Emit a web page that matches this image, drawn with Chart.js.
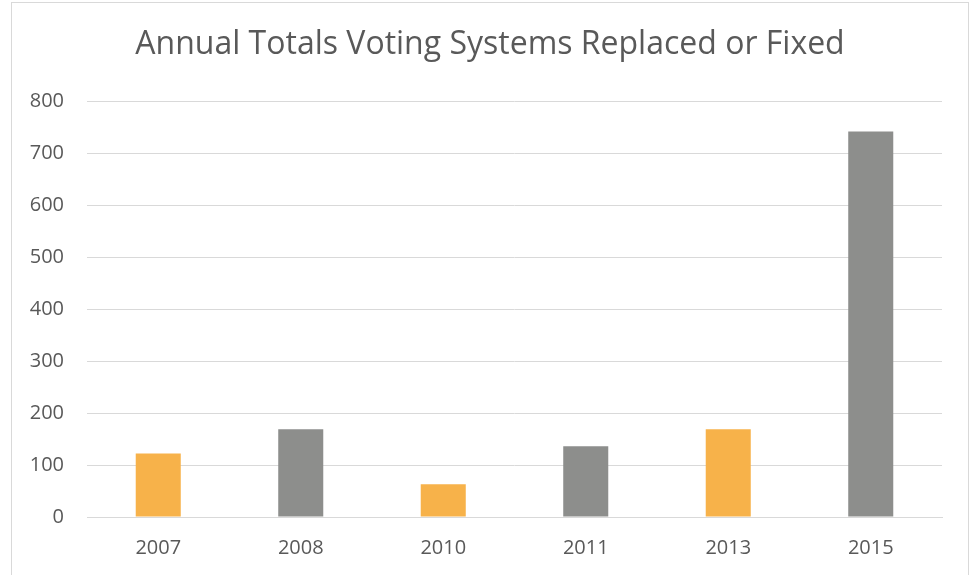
<!DOCTYPE html>
<html>
<head>
<meta charset="utf-8">
<script src="https://cdn.jsdelivr.net/npm/chart.js@4"></script>
<style>
  html, body { margin: 0; padding: 0; background: #fff; overflow: hidden; }
  #frame {
    position: absolute; left: 11px; top: 2px;
    width: 958px; height: 620px;
    border: 1px solid #d9d9d9; box-sizing: border-box;
  }
  #box { position: absolute; left: 0; top: 0; width: 956px; height: 592px; }
</style>
</head>
<body>
<div id="frame"><div id="box"><canvas id="totalsChart"></canvas></div></div>
<script>
// Systems replaced or fixed per year
const years = ['2007', '2008', '2010', '2011', '2013', '2015'];
const totals = [122, 169, 63, 136, 169, 742];

// Bar fill for each year
const ORANGE = '#f7b24a';
const GRAY = '#8d8e8c';
const barColors = [ORANGE, GRAY, ORANGE, GRAY, ORANGE, GRAY];

const TEXT = '#595959';
const GRID = '#d9d9d9';
const FONT = "'Open Sans', sans-serif";

const ctx = document.getElementById('totalsChart').getContext('2d');
new Chart(ctx, {
    type: 'bar',
    data: {
        labels: years,
        datasets: [{
            label: 'Total',
            data: totals,
            backgroundColor: barColors,
            borderWidth: 0,
            barPercentage: 0.316,
            categoryPercentage: 1
        }]
    },
    options: {
        responsive: true,
        maintainAspectRatio: false,
        animation: false,
        layout: { padding: { left: 0, right: 0, top: 23, bottom: 16 } },
        scales: {
            x: {
                grid: { display: false, drawTicks: false },
                border: { color: GRID, width: 1 },
                ticks: { color: TEXT, font: { family: FONT, size: 20 }, padding: 19 }
            },
            y: {
                min: 0,
                max: 800,
                ticks: { stepSize: 100, color: TEXT, font: { family: FONT, size: 20 }, padding: 23 },
                grid: { color: GRID, lineWidth: 1, drawTicks: false },
                border: { display: false },
                afterFit(scale) { scale.width = 75; }
            },
            // empty right axis keeps the gap after the plot without shifting the title
            gap: {
                position: 'right',
                display: true,
                grid: { display: false, drawTicks: false },
                border: { display: false },
                ticks: { display: false },
                afterFit(scale) { scale.width = 26; }
            }
        },
        plugins: {
            legend: { display: false },
            tooltip: { enabled: false },
            title: {
                display: true,
                text: 'Annual Totals Voting Systems Replaced or Fixed',
                color: TEXT,
                font: { family: FONT, size: 32, weight: 'normal' },
                padding: { top: 0, bottom: 37 }
            }
        }
    }
});
</script>
</body>
</html>
